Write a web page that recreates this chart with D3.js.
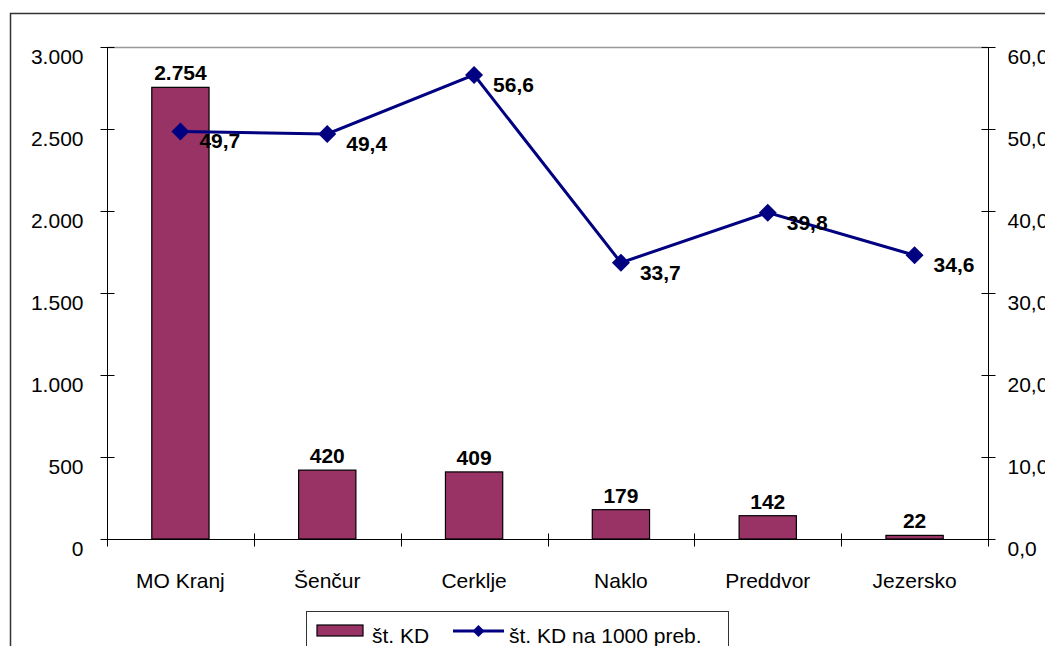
<!DOCTYPE html>
<html>
<head>
<meta charset="utf-8">
<script src="https://cdn.jsdelivr.net/npm/d3@7"></script>
<style>
  body { margin: 0; background: #fff; }
  svg { display: block; font-family: Arial, "Liberation Sans", sans-serif; }
</style>
</head>
<body>
<div id="root"></div>
<script>
const WIDTH = 1045;
const HEIGHT = 646;
const MARGIN = {top: 47, right: 57, bottom: 107, left: 107};
const FONT = 21;

const categories = ["MO Kranj", "Šenčur", "Cerklje", "Naklo", "Preddvor", "Jezersko"];
const kdCount = [2754, 420, 409, 179, 142, 22];
const kdPer1000 = [49.7, 49.4, 56.6, 33.7, 39.8, 34.6];
const leftTicks = [0, 500, 1000, 1500, 2000, 2500, 3000];
const rightTicks = [0, 10, 20, 30, 40, 50, 60];

const BAR_COLOR = "#993366";
const LINE_COLOR = "#000080";

const fmtLeft = d => d3.format(",")(d).replace(/,/g, ".");
const fmtRight = d => d.toFixed(1).replace(".", ",");

const data = categories.map((c, i) => ({name: c, count: kdCount[i], rate: kdPer1000[i]}));

const svg = d3.select("#root")
    .append("svg")
    .attr("width", WIDTH)
    .attr("height", HEIGHT);

// outer chart frame (runs off the right/bottom edge)
svg.append("rect")
    .attr("x", 10.5).attr("y", 13.5)
    .attr("width", 1200).attr("height", 800)
    .attr("fill", "none")
    .attr("stroke", "#333")
    .attr("stroke-width", 1.5);

const x = d3.scaleBand()
    .domain(categories)
    .range([MARGIN.left, WIDTH - MARGIN.right])
    .paddingInner(0.61)
    .paddingOuter(0.305);

const band = d3.scaleBand()
    .domain(categories)
    .range([MARGIN.left, WIDTH - MARGIN.right]);

const yLeft = d3.scaleLinear()
    .domain([0, 3000])
    .range([HEIGHT - MARGIN.bottom, MARGIN.top]);

const yRight = d3.scaleLinear()
    .domain([0, 60])
    .range([HEIGHT - MARGIN.bottom, MARGIN.top]);

// top border of plot area
svg.append("line")
    .attr("x1", MARGIN.left).attr("x2", WIDTH - MARGIN.right)
    .attr("y1", MARGIN.top + 0.5).attr("y2", MARGIN.top + 0.5)
    .attr("stroke", "#999").attr("stroke-width", 1.5);

// left axis
const leftAxis = svg.append("g")
    .attr("transform", `translate(${MARGIN.left + 0.5},0)`)
    .call(d3.axisLeft(yLeft).tickValues(leftTicks).tickFormat(fmtLeft).tickSize(7));
leftAxis.select(".domain").attr("d", `M0,${yLeft(3000)}V${yLeft(0)}`).attr("stroke", "#000");
leftAxis.selectAll(".tick line").attr("x1", 7).attr("x2", -7).attr("stroke", "#000");
leftAxis.selectAll(".tick text")
    .attr("font-size", FONT).attr("fill", "#000").attr("x", -24).attr("dy", null).attr("y", 16);

// right axis
const rightAxis = svg.append("g")
    .attr("transform", `translate(${WIDTH - MARGIN.right + 0.5},0)`)
    .call(d3.axisRight(yRight).tickValues(rightTicks).tickFormat(fmtRight).tickSize(7));
rightAxis.select(".domain").attr("d", `M0,${yRight(60)}V${yRight(0)}`).attr("stroke", "#000");
rightAxis.selectAll(".tick line").attr("x1", -7).attr("x2", 7).attr("stroke", "#000");
rightAxis.selectAll(".tick text")
    .attr("font-size", FONT).attr("fill", "#000").attr("x", 19).attr("dy", null).attr("y", 16);

// bottom axis
const xAxisG = svg.append("g")
    .attr("transform", `translate(0,${HEIGHT - MARGIN.bottom + 0.5})`);
xAxisG.append("line")
    .attr("x1", MARGIN.left).attr("x2", WIDTH - MARGIN.right)
    .attr("stroke", "#000");
const edges = categories.map(c => band(c)).concat([band(categories[5]) + band.bandwidth()]);
xAxisG.selectAll(".edge")
    .data(edges)
    .join("line")
    .attr("class", "edge")
    .attr("x1", d => Math.round(d) + 0.5).attr("x2", d => Math.round(d) + 0.5)
    .attr("y1", -6).attr("y2", 7)
    .attr("stroke", "#000");
xAxisG.selectAll(".cat")
    .data(categories)
    .join("text")
    .attr("class", "cat")
    .attr("x", d => band(d) + band.bandwidth() / 2)
    .attr("y", 48)
    .attr("text-anchor", "middle")
    .attr("font-size", FONT)
    .text(d => d);

// bars
svg.selectAll(".bar")
    .data(data)
    .join("rect")
    .attr("class", "bar")
    .attr("x", d => x(d.name))
    .attr("y", d => yLeft(d.count))
    .attr("width", x.bandwidth())
    .attr("height", d => yLeft(0) - yLeft(d.count))
    .attr("fill", BAR_COLOR)
    .attr("stroke", "#000")
    .attr("stroke-width", 1.2);

svg.selectAll(".barLabel")
    .data(data)
    .join("text")
    .attr("class", "barLabel")
    .attr("x", d => x(d.name) + x.bandwidth() / 2)
    .attr("y", d => yLeft(d.count) - 7)
    .attr("text-anchor", "middle")
    .attr("font-size", FONT)
    .attr("font-weight", "bold")
    .text(d => fmtLeft(d.count));

// line
const cx = d => band(d.name) + band.bandwidth() / 2;
svg.append("path")
    .datum(data)
    .attr("fill", "none")
    .attr("stroke", LINE_COLOR)
    .attr("stroke-width", 3)
    .attr("d", d3.line().x(cx).y(d => yRight(d.rate)));

const diamond = r => `M0,${-r}L${r},0L0,${r}L${-r},0Z`;
svg.selectAll(".marker")
    .data(data)
    .join("path")
    .attr("class", "marker")
    .attr("transform", d => `translate(${cx(d)},${yRight(d.rate)})`)
    .attr("d", diamond(9))
    .attr("fill", LINE_COLOR);

svg.selectAll(".rateLabel")
    .data(data)
    .join("text")
    .attr("class", "rateLabel")
    .attr("x", d => cx(d) + 19)
    .attr("y", d => yRight(d.rate) + 17)
    .attr("font-size", FONT)
    .attr("font-weight", "bold")
    .text(d => fmtRight(d.rate));

// legend
const legend = svg.append("g");
legend.append("rect")
    .attr("x", 306.5).attr("y", 611.5)
    .attr("width", 422).attr("height", 60)
    .attr("fill", "#fff")
    .attr("stroke", "#333");
legend.append("rect")
    .attr("x", 317).attr("y", 625)
    .attr("width", 46).attr("height", 11)
    .attr("fill", BAR_COLOR)
    .attr("stroke", "#000")
    .attr("stroke-width", 1.2);
legend.append("text")
    .attr("x", 372).attr("y", 643)
    .attr("font-size", FONT)
    .text("št. KD");
legend.append("line")
    .attr("x1", 453).attr("x2", 504)
    .attr("y1", 631).attr("y2", 631)
    .attr("stroke", LINE_COLOR).attr("stroke-width", 3);
legend.append("path")
    .attr("transform", "translate(478.5,631)")
    .attr("d", diamond(6))
    .attr("fill", LINE_COLOR);
legend.append("text")
    .attr("x", 509).attr("y", 643)
    .attr("font-size", FONT)
    .text("št. KD na 1000 preb.");
</script>
</body>
</html>
